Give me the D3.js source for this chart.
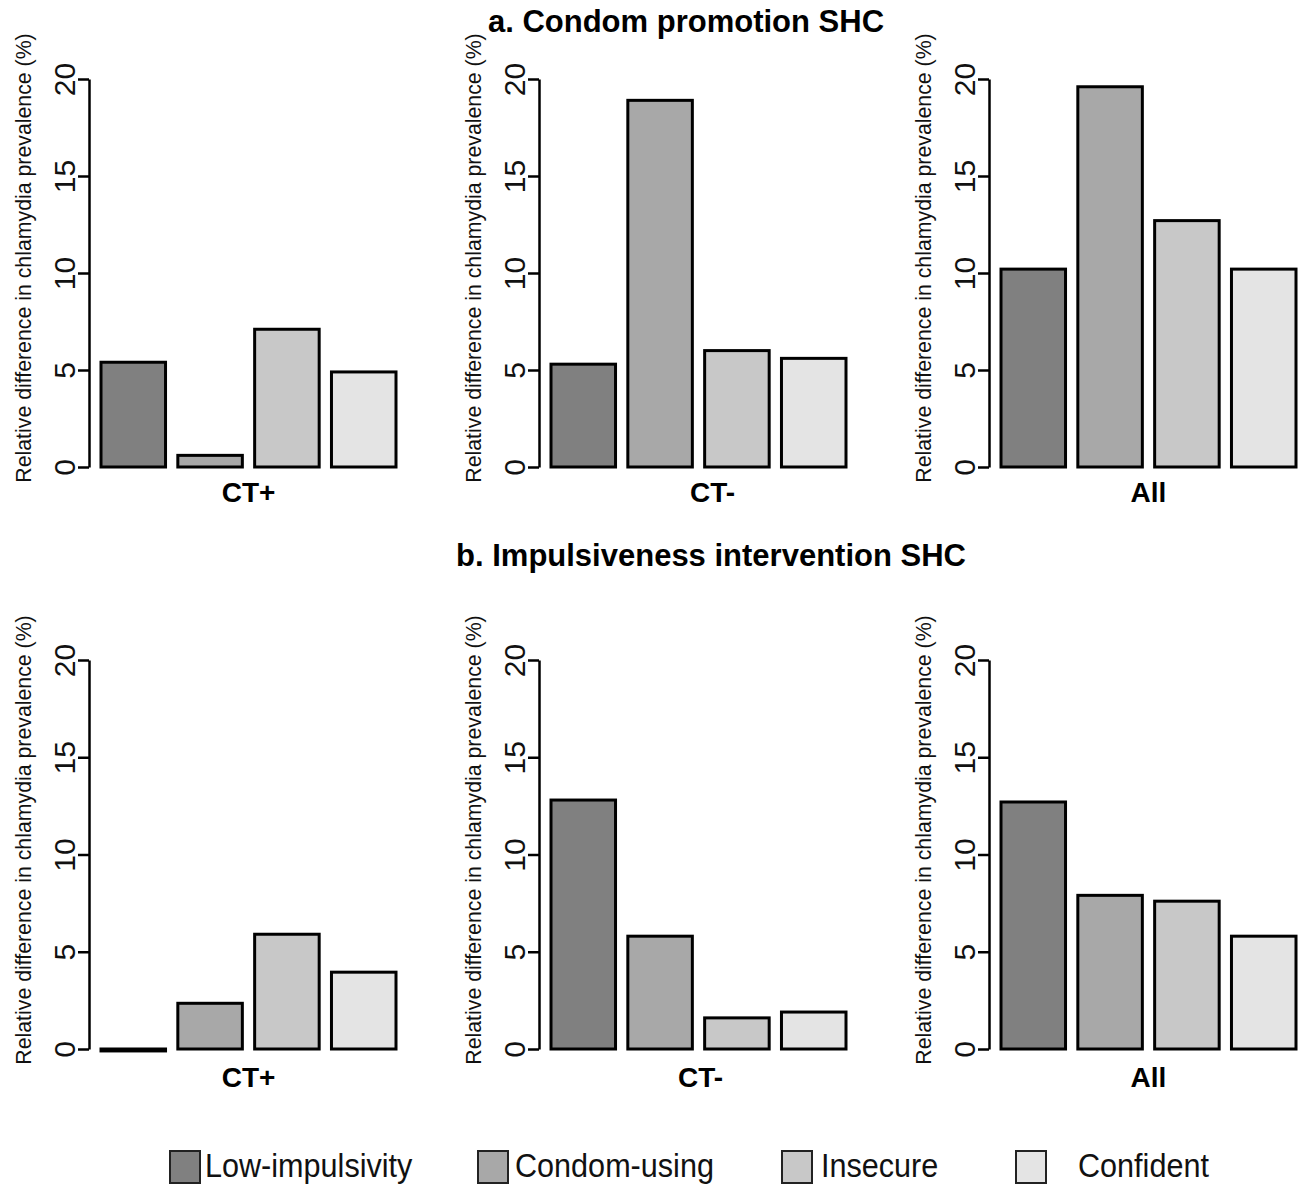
<!DOCTYPE html>
<html>
<head>
<meta charset="utf-8">
<script src="https://cdn.jsdelivr.net/npm/d3@7"></script>
<style>
  html, body { margin: 0; padding: 0; background: #fff; }
  svg { display: block; font-family: "Liberation Sans", Arial, sans-serif; }
</style>
</head>
<body>
<svg id="chart" width="1306" height="1185"></svg>
<script>
// ---- data ----
const categories = ["CT+", "CT-", "All"];
const groups = ["Low-impulsivity", "Condom-using", "Insecure", "Confident"];
const condomValues = [
  [5.4, 0.6, 7.1, 4.9],    // CT+
  [5.3, 18.9, 6.0, 5.6],   // CT-
  [10.2, 19.6, 12.7, 10.2] // All
];
const impulsValues = [
  [-0.1, 2.35, 5.9, 3.95], // CT+
  [12.8, 5.8, 1.6, 1.9],   // CT-
  [12.7, 7.9, 7.6, 5.8]    // All
];
const yTicks = [0, 5, 10, 15, 20];
const panelTitles = ["a. Condom promotion SHC", "b. Impulsiveness intervention SHC"];
const yLabel = "Relative difference in chlamydia prevalence (%)";
const groupColors = ["#808080", "#a8a8a8", "#c8c8c8", "#e4e4e4"];

// ---- layout ----
const svg = d3.select("#chart");
const axisXs = [89, 539, 989];
const rows = [
  { values: condomValues, y0: 467, y20: 79, title: panelTitles[0], titleX: 686, titleY: 32, labelY: 502, labelShift: [0, 14, 0] },
  { values: impulsValues, y0: 1049, y20: 660, title: panelTitles[1], titleX: 711, titleY: 566, labelY: 1087, labelShift: [0, 2, 0] }
];

rows.forEach(row => {
  svg.append("text")
    .attr("x", row.titleX).attr("y", row.titleY)
    .attr("text-anchor", "middle")
    .attr("font-size", 31).attr("font-weight", "bold")
    .attr("fill", "#000")
    .text(row.title);

  const y = d3.scaleLinear().domain([0, 20]).range([row.y0, row.y20]);

  categories.forEach((cat, ci) => {
    const ax = axisXs[ci];
    const x = d3.scaleBand().domain(groups).range([ax + 12, ax + 307]).paddingInner(0.16).paddingOuter(0);
    const g = svg.append("g");

    // bars
    g.selectAll("rect.bar")
      .data(row.values[ci].map((v, i) => ({ v, g: groups[i], c: groupColors[i] })))
      .join("rect")
      .attr("class", "bar")
      .attr("x", d => x(d.g))
      .attr("width", x.bandwidth())
      .attr("y", d => Math.min(y(d.v), y(0)))
      .attr("height", d => Math.abs(y(d.v) - y(0)))
      .attr("fill", d => d.c)
      .attr("stroke", "#000")
      .attr("stroke-width", 3);

    // y axis
    const axis = d3.axisLeft(y).tickValues(yTicks).tickSize(11).tickSizeOuter(0).tickPadding(5);
    const ag = g.append("g").attr("transform", `translate(${ax},0)`).call(axis);
    ag.select(".domain").attr("stroke", "#000").attr("stroke-width", 2.5);
    ag.selectAll(".tick line").attr("stroke", "#000").attr("stroke-width", 2.5);
    ag.selectAll(".tick text")
      .attr("font-size", 30)
      .attr("font-family", "Liberation Sans, Arial, sans-serif")
      .attr("fill", "#111")
      .attr("x", null).attr("dy", null)
      .attr("text-anchor", "middle")
      .attr("transform", "translate(-14,0) rotate(-90)")
      .attr("y", 0);

    // y label
    g.append("text")
      .attr("transform", `translate(${ax - 58},${row.y0 - 209}) rotate(-90)`)
      .attr("text-anchor", "middle")
      .attr("font-size", 21.3)
      .attr("fill", "#111")
      .text(yLabel);

    // category label
    const r = x.range();
    g.append("text")
      .attr("x", (r[0] + r[1]) / 2 + row.labelShift[ci])
      .attr("y", row.labelY)
      .attr("text-anchor", "middle")
      .attr("font-size", 28).attr("font-weight", "bold")
      .attr("fill", "#000")
      .text(cat);
  });
});

// ---- legend ----
const legendBoxX = [170, 478, 782, 1016];
const legendTextX = [205, 515, 821, 1078];
const lg = svg.append("g");
groups.forEach((name, i) => {
  lg.append("rect")
    .attr("x", legendBoxX[i]).attr("y", 1151)
    .attr("width", 30).attr("height", 32)
    .attr("fill", groupColors[i])
    .attr("stroke", "#222").attr("stroke-width", 2);
  lg.append("text")
    .attr("transform", `translate(${legendTextX[i]},1177) scale(0.9,1)`)
    .attr("font-size", 34)
    .attr("fill", "#111")
    .text(name);
});
</script>
</body>
</html>
